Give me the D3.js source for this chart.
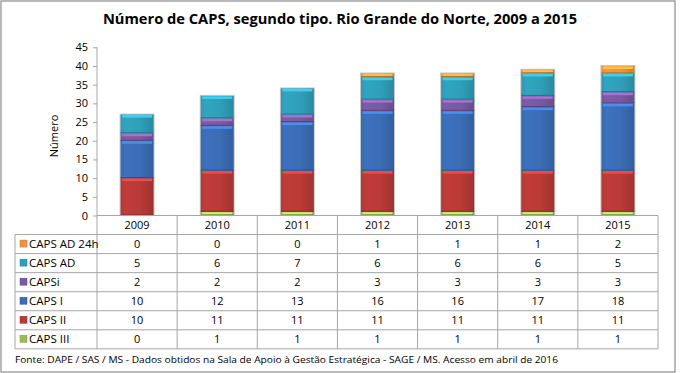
<!DOCTYPE html>
<html>
<head>
<meta charset="utf-8">
<script src="https://cdn.jsdelivr.net/npm/d3@7"></script>
<style>
  body { margin: 0; background: #fff; }
  text { font-family: "Open Sans", "DejaVu Sans", sans-serif; fill: #000; }
</style>
</head>
<body>
<svg id="chart" width="680" height="373"></svg>
<script>
const years = ["2009", "2010", "2011", "2012", "2013", "2014", "2015"];
// stacked bottom -> top
const seriesNames = ["CAPS III", "CAPS II", "CAPS I", "CAPSi", "CAPS AD", "CAPS AD 24h"];
const capsIII = [0, 1, 1, 1, 1, 1, 1];
const capsII = [10, 11, 11, 11, 11, 11, 11];
const capsI = [10, 12, 13, 16, 16, 17, 18];
const capsInf = [2, 2, 2, 3, 3, 3, 3];
const capsAD = [5, 6, 7, 6, 6, 6, 5];
const capsAD24 = [0, 0, 0, 1, 1, 1, 2];
const yTicks = [0, 5, 10, 15, 20, 25, 30, 35, 40, 45];
const colors = ["#9bbb59", "#b93a37", "#3a6db6", "#7a59a1", "#2f9fb9", "#f0933a"];

const title = "Número de CAPS, segundo tipo. Rio Grande do Norte, 2009 a 2015";
const source = "Fonte: DAPE / SAS / MS - Dados obtidos na Sala de Apoio  à Gestão Estratégica - SAGE / MS. Acesso em abril de 2016";

const values = [capsIII, capsII, capsI, capsInf, capsAD, capsAD24];
const rows = years.map((yr, i) => {
  const r = {year: yr};
  seriesNames.forEach((s, k) => r[s] = values[k][i]);
  return r;
});

const svg = d3.select("#chart");
const lineCol = "#a6a6a6";

const plotLeft = 97, plotRight = 658, plotTop = 47.3, base = 215.5;
const rowH = 19.05, tableTop = base, legendLeft = 15;

const x = d3.scaleBand().domain(years).range([plotLeft, plotRight]).paddingInner(0).paddingOuter(0);
const y = d3.scaleLinear().domain([0, 45]).range([base, plotTop]);
const barW = 33;
const barX = d => x(d.data.year) + (x.bandwidth() - barW) / 2;

// outer frame
svg.append("rect").attr("x", 1).attr("y", 1).attr("width", 674).attr("height", 371)
  .attr("fill", "#fff").attr("stroke", "#8c8c8c").attr("stroke-width", 1.2);

// title
const t = svg.append("text").attr("x", 340).attr("y", 24).attr("text-anchor", "middle")
  .style("font-weight", "bold").style("font-size", "15px").text(title);
const tw = t.node().getComputedTextLength();
t.style("font-size", (15 * 475 / tw) + "px");

// gradients per series
const defs = svg.append("defs");
colors.forEach((c, k) => {
  const g = defs.append("linearGradient").attr("id", "g" + k)
    .attr("x1", "0").attr("x2", "1").attr("y1", "0").attr("y2", "0");
  g.append("stop").attr("offset", "0").attr("stop-color", d3.color(c).darker(0.1));
  g.append("stop").attr("offset", "0.15").attr("stop-color", d3.color(c).brighter(0.1));
  g.append("stop").attr("offset", "0.6").attr("stop-color", c);
  g.append("stop").attr("offset", "1").attr("stop-color", d3.color(c).darker(0.4));
});

const stack = d3.stack().keys(seriesNames)(rows);

// faint outline behind each bar
const totals = stack[stack.length - 1];
svg.append("g").selectAll("rect").data(totals).join("rect")
  .attr("x", d => barX(d) - 1).attr("width", barW + 2)
  .attr("y", d => y(d[1]) - 1).attr("height", d => y(0) - y(d[1]) + 1)
  .attr("fill", "#c8c8c8");

const layer = svg.selectAll("g.layer").data(stack).join("g").attr("class", "layer");
layer.each(function(s, k) {
  const g = d3.select(this);
  const segs = s.filter(d => d[1] - d[0] > 0);
  const c = colors[k];
  g.selectAll("rect.main").data(segs).join("rect").attr("class", "main")
    .attr("x", barX)
    .attr("width", barW)
    .attr("y", d => y(d[1]))
    .attr("height", d => y(d[0]) - y(d[1]))
    .attr("fill", "url(#g" + k + ")");
  // top bevel highlight
  g.selectAll("rect.hi").data(segs).join("rect").attr("class", "hi")
    .attr("x", d => barX(d) + 1.5)
    .attr("width", barW - 3)
    .attr("y", d => y(d[1]) + 0.5)
    .attr("height", d => Math.min(2.5, (y(d[0]) - y(d[1])) / 2))
    .attr("fill", d3.color(c).brighter(0.75));
  // bottom dark edge
  g.selectAll("rect.lo").data(segs).join("rect").attr("class", "lo")
    .attr("x", barX)
    .attr("width", barW)
    .attr("y", d => y(d[0]) - 1)
    .attr("height", 1)
    .attr("fill", d3.color(c).darker(0.9));
});

// y axis
const yAxis = d3.axisLeft(y).tickValues(yTicks).tickSize(4).tickPadding(5);
const ya = svg.append("g").attr("transform", `translate(${plotLeft},0)`).call(yAxis);
ya.select(".domain").remove();
ya.selectAll("line").attr("stroke", lineCol);
ya.selectAll("text").style("font-size", "11px").style("font-family", "'Open Sans', sans-serif").attr("fill", "#000");

svg.append("text").attr("transform", "translate(58,136) rotate(-90)")
  .attr("text-anchor", "middle").style("font-size", "11px").text("Número");

// table grid
const tableBottom = tableTop + rowH * 7;
const tableRows = seriesNames.slice().reverse();
const grid = svg.append("g").attr("stroke", lineCol).attr("stroke-width", 1).attr("fill", "none");
grid.append("line").attr("x1", plotLeft).attr("x2", plotLeft).attr("y1", plotTop).attr("y2", tableBottom);
grid.append("line").attr("x1", plotLeft).attr("x2", plotRight).attr("y1", base).attr("y2", base);
years.forEach(yr => {
  grid.append("line").attr("x1", x(yr) + x.bandwidth()).attr("x2", x(yr) + x.bandwidth())
    .attr("y1", tableTop).attr("y2", tableBottom);
});
d3.range(1, 8).forEach(i => {
  grid.append("line").attr("x1", legendLeft).attr("x2", plotRight)
    .attr("y1", tableTop + rowH * i).attr("y2", tableTop + rowH * i);
});
grid.append("line").attr("x1", legendLeft).attr("x2", legendLeft)
  .attr("y1", tableTop + rowH).attr("y2", tableBottom);

// header years
svg.append("g").selectAll("text").data(years).join("text")
  .attr("x", d => x(d) + x.bandwidth() / 2).attr("y", tableTop + rowH / 2 + 4)
  .attr("text-anchor", "middle").style("font-size", "11px").text(d => d);

// data rows
tableRows.forEach((name, r) => {
  const k = seriesNames.indexOf(name);
  const cy = tableTop + rowH * (r + 1) + rowH / 2;
  svg.append("rect").attr("x", 20).attr("y", cy - 4).attr("width", 7).attr("height", 7)
    .attr("fill", colors[k]).attr("stroke", d3.color(colors[k]).darker(0.6)).attr("stroke-width", 0.5);
  svg.append("text").attr("x", 29).attr("y", cy + 4).style("font-size", "11.5px").text(name);
  svg.append("g").selectAll("text").data(rows).join("text")
    .attr("x", d => x(d.year) + x.bandwidth() / 2).attr("y", cy + 4)
    .attr("text-anchor", "middle").style("font-size", "11px").text(d => d[name]);
});

// source
const s = svg.append("text").attr("x", 15).attr("y", 363).style("font-size", "9px").text(source);
s.attr("textLength", 543).attr("lengthAdjust", "spacingAndGlyphs");
</script>
</body>
</html>
